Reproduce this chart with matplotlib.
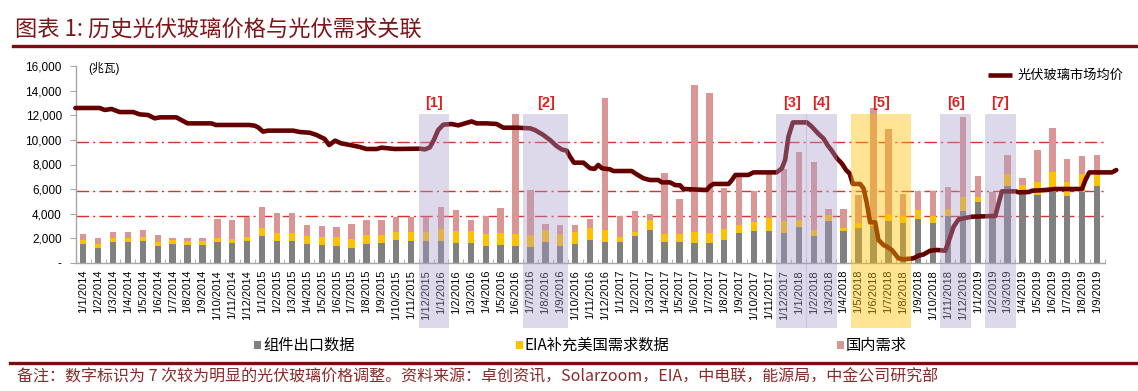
import matplotlib
matplotlib.use("Agg")
import matplotlib.pyplot as plt
from matplotlib.patches import Rectangle
from matplotlib.lines import Line2D
import numpy as np

plt.rcParams['font.family'] = ['Liberation Sans', 'Noto Sans CJK SC', 'DejaVu Sans']

# ---------------- data ----------------
months = [f"1/{m}/{y}" for y in range(2014, 2020) for m in range(1, 13)][:69]

export = [1570, 1245, 1730, 1730, 1810, 1410, 1570, 1490, 1490, 1730, 1650, 1810,
          2170, 1810, 1810, 1570, 1490, 1410, 1250, 1570, 1650, 1900, 1810, 1810,
          1810, 1650, 1650, 1410, 1490, 1410, 1330, 1730, 1410, 1570, 1870, 1730,
          1730, 2190, 2680, 1730, 1730, 1650, 1650, 1870, 2410, 2570, 2570, 2440,
          2920, 2190, 3410, 2600, 2840, 3030, 3410, 3250, 3570, 3250, 3820, 4250,
          4980, 3800, 6250, 5790, 5550, 5790, 5470, 5790, 6250]

eia = [300, 325, 300, 300, 300, 325, 300, 300, 300, 300, 300, 325,
       670, 640, 640, 620, 620, 700, 700, 700, 620, 620, 700, 700,
       950, 950, 950, 950, 950, 950, 950, 950, 950, 950, 975, 950,
       380, 320, 840, 620, 620, 870, 790, 890, 700, 760, 1080, 975,
       570, 490, 515, 270, 430, 300, 570, 570, 730, 570, 600, 1110,
       400, 100, 1000, 570, 1060, 1600, 1140, 1460, 890]

domestic = [490, 460, 490, 490, 570, 540, 160, 245, 245, 1540, 1540, 1625,
            1680, 1650, 1650, 920, 920, 840, 1245, 1245, 1245, 1245, 1245, 1245,
            1760, 1730, 920, 1490, 2000, 9745, 3650, 490, 730, 570, 730, 10720,
            1700, 1730, 460, 4980, 2815, 11960, 11400, 3340, 3920, 2520, 3550, 4190,
            5560, 5500, 490, 1540, 2270, 9270, 6930, 1790, 1540, 2030, 1760, 6490,
            1700, 1890, 1490, 570, 2570, 3600, 1810, 1410, 1600]

# glass price (months since Jan 2014, value)
price_t = [-0.52, 1.1, 1.45, 1.9, 2.45, 3.35, 3.8, 4.35, 4.8, 5.15, 6.25, 6.5, 7.0, 8.6, 8.9,
           11.15, 11.51, 11.73, 12.07, 12.4, 14.08, 14.53, 15.2, 15.65, 16.2, 16.5, 16.9,
           17.3, 18.0, 18.55, 19.0, 19.7, 20.0, 20.5, 20.9, 22.58, 22.92, 23.25, 23.52,
           23.81, 24.15, 24.71, 25.16, 25.6, 26.05, 26.39, 27.06, 27.73, 28.18, 29.07,
           29.97, 30.3, 30.86, 31.31, 31.75, 32.09, 32.43, 32.65, 32.92, 33.55, 34.0,
           34.3, 34.55, 34.8, 35.33, 35.56, 36.79, 37.13, 37.57, 38.02, 38.58, 38.8,
           39.36, 39.7, 40.03, 40.26, 41.83, 42.05, 42.27, 43.29, 43.51, 43.74, 44.62,
           44.96, 46.52, 46.86, 47.08, 47.3, 47.6, 48.54, 48.87, 49.32, 49.65, 49.92,
           50.21, 50.55, 50.88, 51.17, 51.4, 51.62, 52.11, 52.34, 52.56, 52.78, 53.12,
           53.34, 53.68, 53.9, 54.24, 54.68, 55.02, 55.69, 56.03, 56.37, 56.81, 57.26,
           57.82, 58.04, 58.38, 58.72, 59.16, 59.61, 61.18, 61.4, 61.62, 62.52, 62.74,
           63.41, 63.64, 64.53, 65.2, 66.99, 67.22, 67.48, 69.0, 69.29]
price_v = [12590, 12590, 12430, 12510, 12260, 12260, 12070, 12020, 11750, 11830, 11830,
           11670, 11340, 11340, 11210, 11210, 11150, 11020, 10670, 10750, 10750, 10640,
           10580, 10400, 10070, 9580, 9940, 9720, 9560, 9420, 9260, 9260, 9370, 9310, 9260,
           9285, 9230, 9390, 9990, 10800, 11230, 11290, 11180, 11340, 11500, 11340, 11340,
           11290, 10990, 10990, 10940, 10800, 10400, 9990, 9500, 9230, 9120, 8640, 8150,
           8150, 7690, 7650, 7960, 7690, 7610, 7470, 7470, 7200, 6880, 6740, 6740, 6550,
           6550, 6330, 6310, 6010, 5930, 6250, 6420, 6420, 6740, 7150, 7150, 7360, 7360,
           7690, 8370, 10260, 11420, 11420, 11070, 10480, 10120, 9580, 9120, 8500, 8090,
           7550, 7280, 6420, 6420, 6060, 4850, 3300, 3300, 1870, 1460, 1330, 1060, 380,
           300, 380, 600, 700, 1000, 1060, 1000, 1730, 2950, 3550, 3650, 3760, 3820, 4850,
           5820, 5820, 5740, 5760, 5870, 5930, 6010, 6010, 6740, 7360, 7360, 7550]

# price-adjustment episodes (first month index, last month index, label)
episode_start = [23, 30, 47, 49, 52, 58, 61]
episode_end = [24, 32, 48, 50, 55, 59, 62]
episode_label = ['[1]', '[2]', '[3]', '[4]', '[5]', '[6]', '[7]']
episode_kind = ['p', 'p', 'p', 'p', 'y', 'p', 'p']

ref_levels = [9850, 5850, 3850]

# ---------------- figure ----------------
W, H = 1138, 391
fig = plt.figure(figsize=(W / 100, H / 100), dpi=100)
ax = fig.add_axes([75.7 / W, 1 - 263 / H, (1104.5 - 75.7) / W, (263 - 66) / H])

x = np.arange(len(months))
c_exp, c_eia, c_dom = '#808080', '#FFC000', '#D99694'
bw = 0.43
ax.bar(x, export, width=bw, color=c_exp, zorder=2)
ax.bar(x, eia, width=bw, bottom=export, color=c_eia, zorder=2)
ax.bar(x, domestic, width=bw, bottom=np.add(export, eia), color=c_dom, zorder=2)

for v in ref_levels:
    ax.axhline(v, color='#E0302A', lw=1.0, ls=(0, (9, 3, 1.5, 3)), zorder=1)

line_color = '#650000'
ax.plot(price_t, price_v, color=line_color, lw=3.3, zorder=4, clip_on=False,
        solid_joinstyle='round', solid_capstyle='round')

ax.set_xlim(-0.5, 68.5)
ax.set_ylim(0, 16000)
yt = list(range(0, 16001, 2000))
ax.set_yticks(yt)
ax.set_yticklabels(['-' if v == 0 else f'{v:,}' for v in yt])
ax.set_xticks(x)
ax.set_xticklabels(months, rotation=90, fontsize=8)
ax.set_xticks(np.arange(-0.5, 69, 1), minor=True)
ax.tick_params(axis='x', which='major', length=0, pad=5)
ax.tick_params(axis='x', which='minor', length=3, direction='in', color='#A6A6A6')
ax.tick_params(axis='y', length=4, direction='out', color='#A6A6A6', labelsize=8.5, pad=6)
for s in ('top', 'right'):
    ax.spines[s].set_visible(False)
for s in ('left', 'bottom'):
    ax.spines[s].set_color('#A6A6A6')
    ax.spines[s].set_linewidth(1.0)

# shaded episodes
for s, e, lab, k in zip(episode_start, episode_end, episode_label, episode_kind):
    if k == 'y':
        fc, al = '#FFC000', 0.42
    else:
        fc, al = '#A99CC9', 0.38
    r = Rectangle((s - 0.5, -5300), (e - s) + 1.05, 12100 + 5300, facecolor=fc,
                  alpha=al, edgecolor='none', zorder=6, clip_on=False)
    ax.add_patch(r)
    ax.text((s + e) / 2 + 0.02, 13000, lab, color='#E02020', fontsize=10.5,
            fontweight='bold', ha='center', va='center', zorder=7, clip_on=False)

ax.text(0.012, 0.985, '(兆瓦)', transform=ax.transAxes, fontsize=8.5, va='center', ha='left')

# top-right legend
fig.add_artist(Line2D([988 / W, 1012 / W], [1 - 75 / H] * 2, color=line_color, lw=3.3,
                      solid_capstyle='butt'))
fig.text(1018 / W, 1 - 75 / H, '光伏玻璃市场均价', fontsize=9.5, va='center', ha='left',
         family=['Noto Sans CJK SC'])

# bottom legend
leg_items = [(254, c_exp, '组件出口数据'), (516, c_eia, 'EIA补充美国需求数据'), (837, c_dom, '国内需求')]
for lx, col, lab in leg_items:
    fig.add_artist(Rectangle((lx / W, 1 - 349 / H), 7 / W, 8 / H, facecolor=col,
                             edgecolor='none', transform=fig.transFigure))
    fig.text((lx + 9) / W, 1 - 345 / H, lab, fontsize=11, va='center', ha='left',
             family=['Noto Sans CJK SC'])

# title & footer
title_color = '#7F1518'
fig.text(15 / W, 1 - 30 / H, '图表 1: 历史光伏玻璃价格与光伏需求关联', fontsize=16,
         color=title_color, va='center', ha='left', family=['Noto Sans CJK SC'])
fig.add_artist(Line2D([13 / W, 1.0], [1 - 46 / H] * 2, color='#7A0F12', lw=2.4))
fig.add_artist(Line2D([10 / W, 1.0], [1 - 363 / H] * 2, color='#7A0F12', lw=2.4))
fig.text(17 / W, 1 - 377 / H,
         '备注：数字标识为 7 次较为明显的光伏玻璃价格调整。资料来源：卓创资讯，Solarzoom，EIA，中电联，能源局，中金公司研究部',
         fontsize=11.5, color='#8B2A2A', va='center', ha='left', family=['Noto Sans CJK SC'])

fig.savefig('out.png', dpi=100)
